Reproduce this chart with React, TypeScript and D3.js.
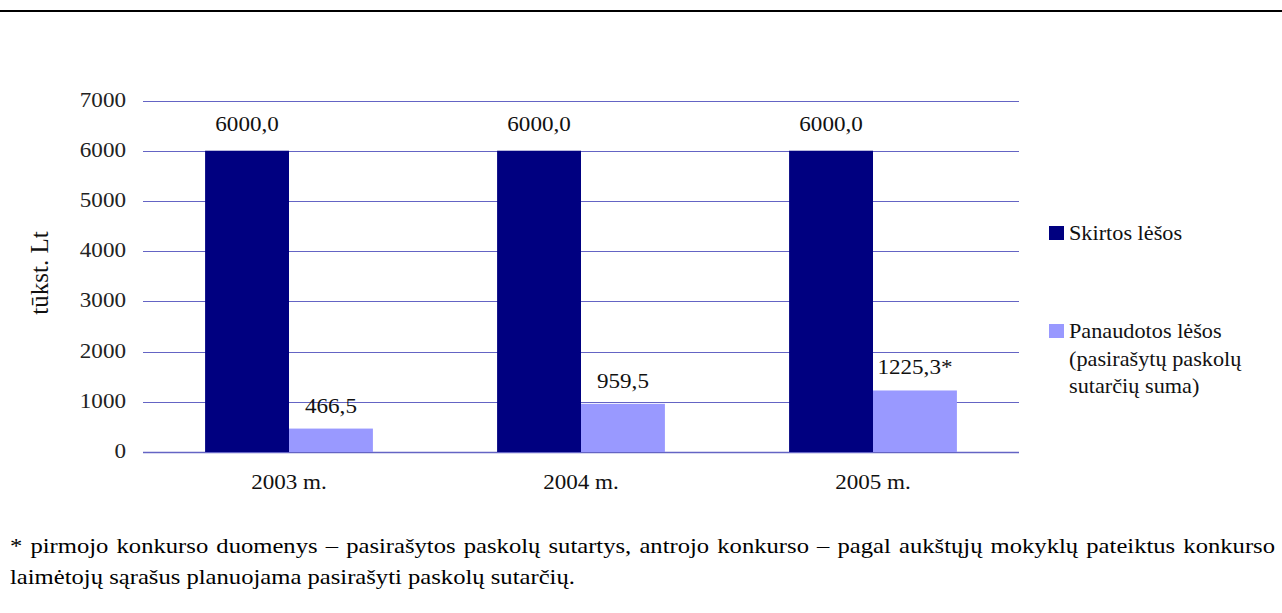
import React, { useEffect, useRef } from 'react';
import * as d3 from 'd3';

const years = ['2003 m.', '2004 m.', '2005 m.'];
const allocated = [6000.0, 6000.0, 6000.0];
const used = [466.5, 959.5, 1225.3];
const usedMarks = ['', '', '*'];
const yTicks = [0, 1000, 2000, 3000, 4000, 5000, 6000, 7000];
const legendAllocated = ['Skirtos lėšos'];
const legendUsed = ['Panaudotos lėšos', '(pasirašytų paskolų', 'sutarčių suma)'];
const yTitle = 'tūkst. Lt';
const footLine1 =
  '* pirmojo konkurso duomenys – pasirašytos paskolų sutartys, antrojo konkurso – pagal aukštųjų mokyklų pateiktus konkurso';
const footLine2 = 'laimėtojų sąrašus planuojama pasirašyti paskolų sutarčių.';

const FONT = 'Liberation Serif, Times New Roman, serif';
const DARK = '#000080';
const LIGHT = '#9999ff';
const GRID = '#6464c4';
const SX = 1.1; // the source text is a bit wider than plain Times

const fmt = (v: number) => v.toFixed(1).replace('.', ',');

const App = () => {
  const ref = useRef<SVGSVGElement>(null);

  useEffect(() => {
    const svg = d3.select(ref.current);
    svg.selectAll('*').remove();

    const W = 1282;
    const H = 613;
    svg.attr('width', W).attr('height', H).attr('font-family', FONT);

    // place a text at x,y with horizontal stretch
    const at = (x: number, y: number, sx = SX) => `translate(${x},${y}) scale(${sx},1)`;

    // cut-off header rule
    svg
      .append('line')
      .attr('x1', 0)
      .attr('x2', W)
      .attr('y1', 11)
      .attr('y2', 11)
      .attr('stroke', '#000')
      .attr('stroke-width', 2);

    const plot = { left: 143, right: 1019, top: 100.5, bottom: 452 };

    const y = d3.scaleLinear().domain([0, 7000]).range([plot.bottom, plot.top]);
    const x = d3.scaleBand<string>().domain(years).range([plot.left, plot.right]).padding(0);
    const inner = d3
      .scaleBand<string>()
      .domain(['a', 'b'])
      .range([0, x.bandwidth()])
      .paddingInner(0)
      .paddingOuter(0.74);

    // gridlines
    svg
      .append('g')
      .selectAll('line')
      .data(yTicks)
      .join('line')
      .attr('x1', plot.left)
      .attr('x2', plot.right)
      .attr('y1', d => Math.round(y(d)) + 0.5)
      .attr('y2', d => Math.round(y(d)) + 0.5)
      .attr('stroke', GRID)
      .attr('stroke-width', d => (d === 0 ? 1.6 : 1));

    // tick labels
    svg
      .append('g')
      .selectAll('text')
      .data(yTicks)
      .join('text')
      .attr('transform', d => at(126, y(d) + 6))
      .attr('text-anchor', 'end')
      .attr('font-family', FONT)
      .attr('font-size', 21)
      .attr('fill', '#222')
      .text(d => String(d));

    // y title
    svg
      .append('text')
      .attr('transform', 'translate(48,273) rotate(-90)')
      .attr('text-anchor', 'middle')
      .attr('font-family', FONT)
      .attr('font-size', 25)
      .attr('fill', '#111')
      .text(yTitle);

    // bars
    const groups = svg
      .append('g')
      .selectAll('g')
      .data(years)
      .join('g')
      .attr('transform', d => `translate(${x(d)},0)`);

    groups
      .append('rect')
      .attr('x', inner('a')!)
      .attr('width', inner.bandwidth())
      .attr('y', (_, i) => y(allocated[i]))
      .attr('height', (_, i) => plot.bottom - y(allocated[i]))
      .attr('fill', DARK);

    groups
      .append('rect')
      .attr('x', inner('b')!)
      .attr('width', inner.bandwidth())
      .attr('y', (_, i) => y(used[i]))
      .attr('height', (_, i) => plot.bottom - y(used[i]))
      .attr('fill', LIGHT);

    // value labels
    groups
      .append('text')
      .attr('transform', (_, i) => at(inner('a')! + inner.bandwidth() / 2, y(allocated[i]) - 20))
      .attr('text-anchor', 'middle')
      .attr('font-family', FONT)
      .attr('font-size', 21)
      .attr('fill', '#111')
      .text((_, i) => fmt(allocated[i]));

    groups
      .append('text')
      .attr('transform', (_, i) => at(inner('b')! + inner.bandwidth() / 2, y(used[i]) - 16))
      .attr('text-anchor', 'middle')
      .attr('font-family', FONT)
      .attr('font-size', 21)
      .attr('fill', '#111')
      .text((_, i) => fmt(used[i]) + usedMarks[i]);

    // category labels
    groups
      .append('text')
      .attr('transform', at(x.bandwidth() / 2, 489))
      .attr('text-anchor', 'middle')
      .attr('font-family', FONT)
      .attr('font-size', 21)
      .attr('fill', '#111')
      .text(d => d);

    // legend
    const legend = svg.append('g');
    const items = [
      { color: DARK, lines: legendAllocated, top: 226 },
      { color: LIGHT, lines: legendUsed, top: 324 },
    ];
    items.forEach(it => {
      legend
        .append('rect')
        .attr('x', 1049)
        .attr('y', it.top)
        .attr('width', 15)
        .attr('height', 14)
        .attr('fill', it.color);
      it.lines.forEach((t, j) => {
        legend
          .append('text')
          .attr('transform', at(1069, it.top + 14 + j * 27.5, 1.06))
          .attr('font-family', FONT)
          .attr('font-size', 21)
          .attr('fill', '#111')
          .text(t);
      });
    });

    // footnote, first line justified
    const FSX = 1.12;
    const foot = svg.append('g').attr('transform', at(10, 0, FSX));
    const words = footLine1.split(' ');
    const nodes = words.map(w =>
      foot
        .append('text')
        .attr('y', 553)
        .attr('font-family', FONT)
        .attr('font-size', 22)
        .attr('fill', '#000')
        .text(w)
    );
    const widths = nodes.map(n => (n.node() as SVGTextElement).getComputedTextLength());
    const gap = ((1275 - 10) / FSX - d3.sum(widths)) / (words.length - 1);
    let cx = 0;
    nodes.forEach((n, i) => {
      n.attr('x', cx);
      cx += widths[i] + gap;
    });
    foot
      .append('text')
      .attr('x', 0)
      .attr('y', 584)
      .attr('font-family', FONT)
      .attr('font-size', 22)
      .attr('fill', '#000')
      .text(footLine2);
  }, []);

  return (
    <svg
      ref={ref}
      style={{ position: 'absolute', left: 0, top: 0, display: 'block', background: '#fff' }}
    ></svg>
  );
};

export default App;
